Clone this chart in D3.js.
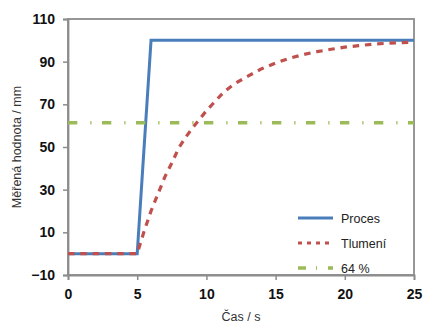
<!DOCTYPE html>
<html>
<head>
<meta charset="utf-8">
<script src="https://cdn.jsdelivr.net/npm/d3@7"></script>
<style>
  body { margin: 0; background: #fff; }
  svg { display: block; font-family: "Liberation Sans", Arial, sans-serif; }
</style>
</head>
<body>
<div id="chart"></div>
<script>
// Data
const xTicks = [0, 5, 10, 15, 20, 25];
const yTicks = [-10, 10, 30, 50, 70, 90, 110];

const procesT = [0, 5, 6, 25];
const procesV = [0, 0, 100, 100];

const tlumeniT = [0, 5, 5.5, 6, 6.5, 7, 7.5, 8, 8.5, 9, 9.5, 10, 10.5, 11, 11.5, 12, 13, 14, 15, 16, 17, 18, 19, 20, 21, 22, 23, 24, 25];
const tlumeniV = [0, 0, 10.5, 20, 28, 36, 42.5, 49.5, 54.5, 59, 63, 67, 70.5, 74, 77, 79.5, 83.2, 86.7, 89.4, 91.6, 93.3, 94.7, 95.8, 96.8, 97.5, 98.2, 98.6, 98.9, 99.1];

const prahT = [0, 25];
const prahV = [61.4, 61.4];

const seriesNames = ["Proces", "Tlumení", "64 %"];

const width = 424, height = 325;
const margin = { top: 19, right: 10, bottom: 50, left: 68 };

const svg = d3.select("#chart").append("svg")
    .attr("width", width)
    .attr("height", height);

const x = d3.scaleLinear().domain([0, 25]).range([margin.left, width - margin.right]);
const y = d3.scaleLinear().domain([-10, 110]).range([height - margin.bottom, margin.top]);

// rámeček grafu
svg.append("rect")
    .attr("x", x(0)).attr("y", y(110))
    .attr("width", x(25) - x(0)).attr("height", y(-10) - y(110))
    .attr("fill", "none").attr("stroke", "#8c8c8c").attr("stroke-width", 1.8);

// osy
const xAxis = svg.append("g")
    .attr("transform", `translate(0,${y(-10)})`)
    .call(d3.axisBottom(x).tickValues(xTicks).tickSize(5).tickPadding(9));
const yAxis = svg.append("g")
    .attr("transform", `translate(${x(0)},0)`)
    .call(d3.axisLeft(y).tickValues(yTicks).tickSize(5).tickPadding(8));

[xAxis, yAxis].forEach(g => {
    g.select(".domain").attr("stroke", "#8c8c8c").attr("stroke-width", 1.8);
    g.selectAll(".tick line").attr("stroke", "#8c8c8c").attr("stroke-width", 1.5);
    g.selectAll(".tick text")
        .attr("fill", "#111")
        .attr("font-size", 14)
        .attr("font-weight", "bold")
        .attr("font-family", "'Liberation Sans', Arial, sans-serif");
});

// popisky os
svg.append("text")
    .attr("x", (x(0) + x(25)) / 2).attr("y", 321)
    .attr("text-anchor", "middle")
    .attr("font-size", 12.5).attr("fill", "#333")
    .text("Čas / s");

svg.append("text")
    .attr("transform", `translate(21,${(y(-10) + y(110)) / 2}) rotate(-90)`)
    .attr("text-anchor", "middle")
    .attr("font-size", 12.5).attr("fill", "#333")
    .text("Měřená hodnota / mm");

const line = d3.line().x(d => x(d[0])).y(d => y(d[1]));

const styles = [
    { color: "#4a7ebb", width: 3, dash: null },
    { color: "#c0504d", width: 3.2, dash: "6.5,5.8" },
    { color: "#9bbb59", width: 3.5, dash: "9.3,13,1.2,10.5" }
];

const seriesData = [
    d3.zip(procesT, procesV),
    d3.zip(tlumeniT, tlumeniV),
    d3.zip(prahT, prahV)
];

seriesData.forEach((data, i) => {
    svg.append("path")
        .datum(data)
        .attr("d", line)
        .attr("fill", "none")
        .attr("stroke", styles[i].color)
        .attr("stroke-width", styles[i].width)
        .attr("stroke-dasharray", styles[i].dash);
});

// legenda
const legendY = [218, 243, 268];
const legend = svg.append("g");
seriesNames.forEach((name, i) => {
    legend.append("line")
        .attr("x1", 298).attr("x2", 333)
        .attr("y1", legendY[i]).attr("y2", legendY[i])
        .attr("stroke", styles[i].color)
        .attr("stroke-width", styles[i].width)
        .attr("stroke-dasharray", i === 1 ? "4,5" : (i === 2 ? "8,10,1,11" : null));
    legend.append("text")
        .attr("x", 341).attr("y", legendY[i] + 4.5)
        .attr("font-size", 12.5).attr("fill", "#222")
        .text(name);
});
</script>
</body>
</html>
